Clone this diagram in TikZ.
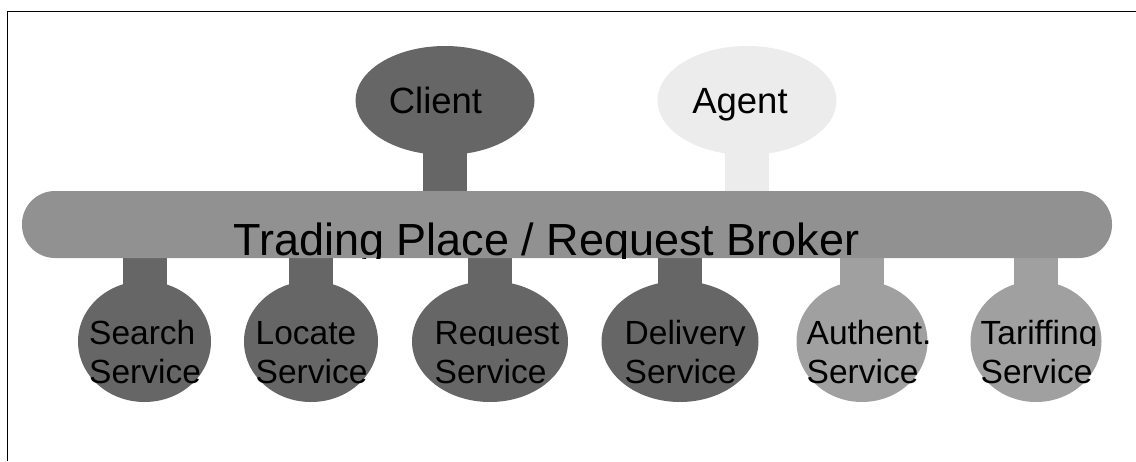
\documentclass[tikz,border=0pt]{standalone}
\usepackage{fontspec}
\setmainfont{Liberation Sans}
\usetikzlibrary{shapes.geometric, backgrounds}
\definecolor{darkfill}{HTML}{666666}
\definecolor{lightfill}{HTML}{A0A0A0}
\definecolor{busfill}{HTML}{919191}
\definecolor{agentfill}{HTML}{ECECEC}

\begin{document}
\begin{tikzpicture}[x=1pt,y=-1pt,
  party/.style={ellipse,minimum width=179pt,minimum height=109pt,inner sep=0pt},
  service/.style={ellipse,minimum height=121pt,inner sep=0pt},
  bus/.style={rectangle,rounded corners=33pt,fill=busfill,minimum width=1090pt,
    minimum height=67pt,inner sep=0pt},
  stem/.style={line width=44pt},
  party text/.style={anchor=base,inner sep=0pt,font=\fontsize{36.5}{44}\selectfont},
  service text/.style={anchor=base west,inner sep=0pt,font=\fontsize{33.5}{40}\selectfont}]
  \useasboundingbox (0,0) rectangle (1136,461);
  \draw[line width=1pt] (1136,11) -- (7,11) -- (7,461);

  \node[bus] (broker) at (567,224.5) {};
  \node[party,fill=darkfill] (client) at (445,100.5) {};
  \node[party,fill=agentfill] (agent) at (747,100.5) {};
  \node[party text] (clientlabel) at (435.5,113) {Client};
  \node[party text] (agentlabel) at (740,113) {Agent};
  \begin{scope}[on background layer]
    \draw[stem,darkfill] (client.center) -- (client.center |- broker.center);
    \draw[stem,agentfill] (agent.center) -- (agent.center |- broker.center);
  \end{scope}

  % the broker text is cut off at the bottom of the bar
  \begin{scope}
    \clip (broker.north west) rectangle (broker.south east);
    \node[anchor=base west,inner sep=0pt,font=\fontsize{45}{54}\selectfont]
      (brokerlabel) at (233,255.5) {Trading Place / Request Broker};
  \end{scope}

  \foreach \n/\x/\w/\c/\t in {search/144.5/133/darkfill/Search,
      locate/311/134/darkfill/Locate, request/490/156/darkfill/Request,
      delivery/680/157/darkfill/Delivery, authent/862/131/lightfill/Authent.,
      tariff/1036/131/lightfill/Tariffing}{
    \node[service,fill=\c,minimum width=\w pt] (\n) at (\x,341.5) {};
    \begin{scope}[on background layer]
      \draw[stem,\c] (\n.center) -- (\n.center |- broker.center);
    \end{scope}
    \begin{scope}
      \clip (\x-80,300) rectangle (\x+90,345);
      \node[service text] (\n top) at (\x-55.5,344) {\t};
    \end{scope}
    \node[service text] (\n bottom) at (\x-55.5,383) {Service};
  }
\end{tikzpicture}
\end{document}
